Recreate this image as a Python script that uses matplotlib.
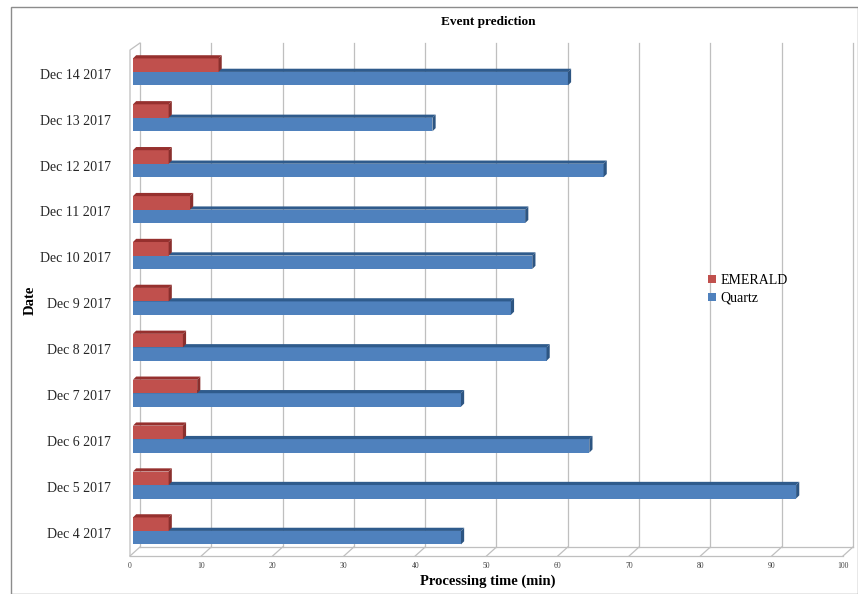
import matplotlib
matplotlib.use("Agg")
import matplotlib.pyplot as plt
from matplotlib.patches import Patch, Rectangle

# Processing time per day (minutes)
dates = ["Dec 4 2017", "Dec 5 2017", "Dec 6 2017", "Dec 7 2017", "Dec 8 2017",
         "Dec 9 2017", "Dec 10 2017", "Dec 11 2017", "Dec 12 2017",
         "Dec 13 2017", "Dec 14 2017"]
emerald = [5, 5, 7, 9, 7, 5, 5, 8, 5, 5, 12]
quartz = [46, 93, 64, 46, 58, 53, 56, 55, 66, 42, 61]
xticks = [0, 10, 20, 30, 40, 50, 60, 70, 80, 90, 100]

RED, RED_TOP, RED_SIDE = "#C0504D", "#96302E", "#8A2F2D"
BLUE, BLUE_TOP, BLUE_SIDE = "#4F81BD", "#2F5B8C", "#2D5582"
WALL = "#BFBFBF"
SERIF = "Liberation Serif"

W, H = 858, 594
fig = plt.figure(figsize=(W / 100, H / 100), dpi=100)

# plot area in pixels
left, right, bottom, top = 130, 846, 547, 43
ax = fig.add_axes([left / W, 1 - bottom / H, (right - left) / W, (bottom - top) / H])
ymin, ymax = -0.35, 10.63
ax.set_xlim(0, 100)
ax.set_ylim(ymin, ymax)
for s in ax.spines.values():
    s.set_visible(False)

# perspective offsets (data units)
px_x = (right - left) / 100.0
px_y = (bottom - top) / (ymax - ymin)
dx, dy = 3.2 / px_x, 3.2 / px_y
back_dx = 7 / px_x
front_dx = -3 / px_x
floor_front = ymin - 9 / px_y

# back wall gridlines
for v in xticks:
    ax.plot([v + back_dx, v + back_dx], [ymin, ymax], color=WALL, lw=0.9,
            clip_on=False, zorder=0)
# floor
ax.plot([front_dx, 100 + front_dx], [floor_front, floor_front], color=WALL,
        lw=0.9, clip_on=False, zorder=0)
ax.plot([back_dx, 100 + back_dx], [ymin, ymin], color=WALL, lw=0.9,
        clip_on=False, zorder=0)
for v in xticks:
    ax.plot([v + front_dx, v + back_dx], [floor_front, ymin], color=WALL,
            lw=0.9, clip_on=False, zorder=0)
# side wall
ax.plot([front_dx, front_dx, back_dx], [floor_front, ymax - 7 / px_y, ymax],
        color=WALL, lw=0.9, clip_on=False, zorder=0)

h = 13.5 / px_y


def bar3d(y0, val, front, topc, side, z):
    ax.add_patch(Rectangle((0, y0), val, h, facecolor=front,
                           edgecolor="none", zorder=z))
    ax.fill([0, val, val + dx, dx], [y0 + h, y0 + h, y0 + h + dy, y0 + h + dy],
            color=topc, lw=0, zorder=z)
    ax.fill([val, val + dx, val + dx, val], [y0, y0 + dy, y0 + h + dy, y0 + h],
            color=side, lw=0, zorder=z)


for i, (e, q) in enumerate(zip(emerald, quartz)):
    bar3d(i - h, q, BLUE, BLUE_TOP, BLUE_SIDE, 2)
    bar3d(i, e, RED, RED_TOP, RED_SIDE, 3)

ax.set_yticks([i - 0.04 for i in range(len(dates))])
ax.set_yticklabels(dates, fontfamily=SERIF, fontsize=10, color="#262626")
ax.tick_params(axis="y", length=0, pad=14)
ax.set_xticks([v + front_dx for v in xticks])
ax.set_xticklabels([str(v) for v in xticks], fontfamily=SERIF, fontsize=5.5,
                   color="#404040")
ax.tick_params(axis="x", length=0, pad=11)

ax.set_xlabel("Processing time (min)", fontfamily=SERIF, fontsize=10.5,
              fontweight="bold", labelpad=3)
fig.text(30 / W, 1 - 300 / H, "Date", rotation=90, ha="center", va="center",
         fontfamily=SERIF, fontsize=10.5, fontweight="bold")
fig.text((left + right) / 2 / W, 1 - 22 / H, "Event prediction", ha="center",
         va="center", fontfamily=SERIF, fontsize=9.5, fontweight="bold")

handles = [Patch(facecolor=RED, edgecolor="none"),
           Patch(facecolor=BLUE, edgecolor="none")]
fig.legend(handles, ["EMERALD", "Quartz"], loc="upper left",
           bbox_to_anchor=(708 / W, 1 - 274 / H), frameon=False,
           prop={"family": SERIF, "size": 10}, handlelength=0.55,
           handleheight=0.55, handletextpad=0.35, labelspacing=0.35,
           borderpad=0, borderaxespad=0)

# chart frame
frame = Rectangle((11 / W, 0), 1 - 11 / W, 1 - 7 / H, transform=fig.transFigure,
                  fill=False, edgecolor="#8C8C8C", lw=1.0, zorder=-1)
fig.patches.append(frame)

fig.savefig("out.png", dpi=100)
